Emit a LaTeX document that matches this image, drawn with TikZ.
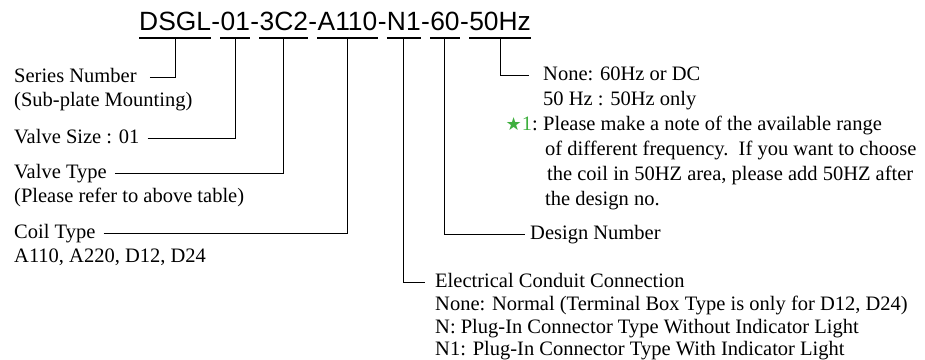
\documentclass[tikz,border=0pt]{standalone}
\usepackage{fontspec}
\setmainfont{Liberation Serif}
\newfontfamily\codefont{Liberation Sans}
\newfontfamily\symfont{DejaVu Sans}
\usetikzlibrary{calc}
\definecolor{stargreen}{RGB}{62,175,62}
\tikzset{
    code/.style={font=\codefont\fontsize{26.4}{30}\selectfont, inner sep=0pt, anchor=base west},
    txt/.style={font=\fontsize{20.5}{24}\selectfont, inner sep=0pt, anchor=base west},
    uline/.style={line width=2.4pt},
    link/.style={line width=1pt},
  }

\begin{document}
\begin{tikzpicture}[x=1pt,y=-1pt]
  %1pt = 1px, y goes down
  \useasboundingbox (0,0) rectangle (925,359);
  %code
  \node[code] (dsgl) at (139,30) {DSGL};
  \node[code] (h1) at (dsgl.base east) {-};
  \node[code] (size) at (h1.base east) {01};
  \node[code] (h2) at (size.base east) {-};
  \node[code] (type) at (h2.base east) {3C2};
  \node[code] (h3) at (type.base east) {-};
  \node[code] (coil) at (h3.base east) {A110};
  \node[code] (h4) at (coil.base east) {-};
  \node[code] (conduit) at (h4.base east) {N1};
  \node[code] (h5) at (conduit.base east) {-};
  \node[code] (design) at (h5.base east) {60};
  \node[code] (h6) at (design.base east) {-};
  \node[code] (freq) at (h6.base east) {50Hz};
  %underlines
  \foreach \p in {dsgl,size,type,coil,conduit,design,freq}{
    \draw[uline] ([yshift=-8pt]\p.base west) -- ([yshift=-8pt]\p.base east);
    \coordinate (\p-u) at ($([yshift=-8pt]\p.base west)!.5!([yshift=-8pt]\p.base east)$);
  }
  %left side
  \node[txt] (series) at (14,82) {Series Number};
  \node[txt] (series2) at (14,106) {(Sub-plate Mounting)};
  \node[txt] (vsize) at (14,143) {Valve Size : 01};
  \node[txt] (vtype) at (14,178) {Valve Type};
  \node[txt] (vtype2) at (14,202) {(Please refer to above table)};
  \node[txt] (ctype) at (14,238) {Coil Type};
  \node[txt] (ctype2) at (14,262) {A110, A220, D12, D24};
  \draw[link] ([shift={(13pt,5pt)}]series.base east) -| (dsgl-u);
  \draw[link] ([shift={(8pt,5pt)}]vsize.base east) -| (size-u);
  \draw[link] ([shift={(8pt,5pt)}]vtype.base east) -| (type-u);
  \draw[link] ([shift={(8pt,5pt)}]ctype.base east) -| (coil-u);
  %right side
  \node[txt] (fnone) at (543,80) {None: 60Hz or DC};
  \node[txt] (f50) at (543,105) {50 Hz : 50Hz only};
  \node[txt] (note1) at (543,130) {Please make a note of the available range};
  \node[txt, anchor=base east] (star) at ([xshift=-5pt]note1.base west) {{\color{stargreen}{\symfont\fontsize{18}{18}\selectfont ★}1}:};
  \node[txt] (note2) at (545,155) {of different frequency.\ \ If you want to choose};
  \node[txt] (note3) at (547,180) {the coil in 50HZ area, please add 50HZ after};
  \node[txt] (note4) at (545,205) {the design no.};
  \node[txt] (dnum) at (530,239) {Design Number};
  \node[txt] (elec) at (435,287) {Electrical Conduit Connection};
  \node[txt] (elec2) at (435,310) {None: Normal (Terminal Box Type is only for D12, D24)};
  \node[txt] (elec3) at (435,333) {N: Plug-In Connector Type Without Indicator Light};
  \node[txt] (elec4) at (435,355) {N1: Plug-In Connector Type With Indicator Light};
  \draw[link] (freq-u) |- ([shift={(-14pt,5pt)}]fnone.base west);
  \draw[link] (design-u) |- ([shift={(-5pt,5pt)}]dnum.base west);
  \draw[link] (conduit-u) |- ([shift={(-10pt,5pt)}]elec.base west);
\end{tikzpicture}
\end{document}
